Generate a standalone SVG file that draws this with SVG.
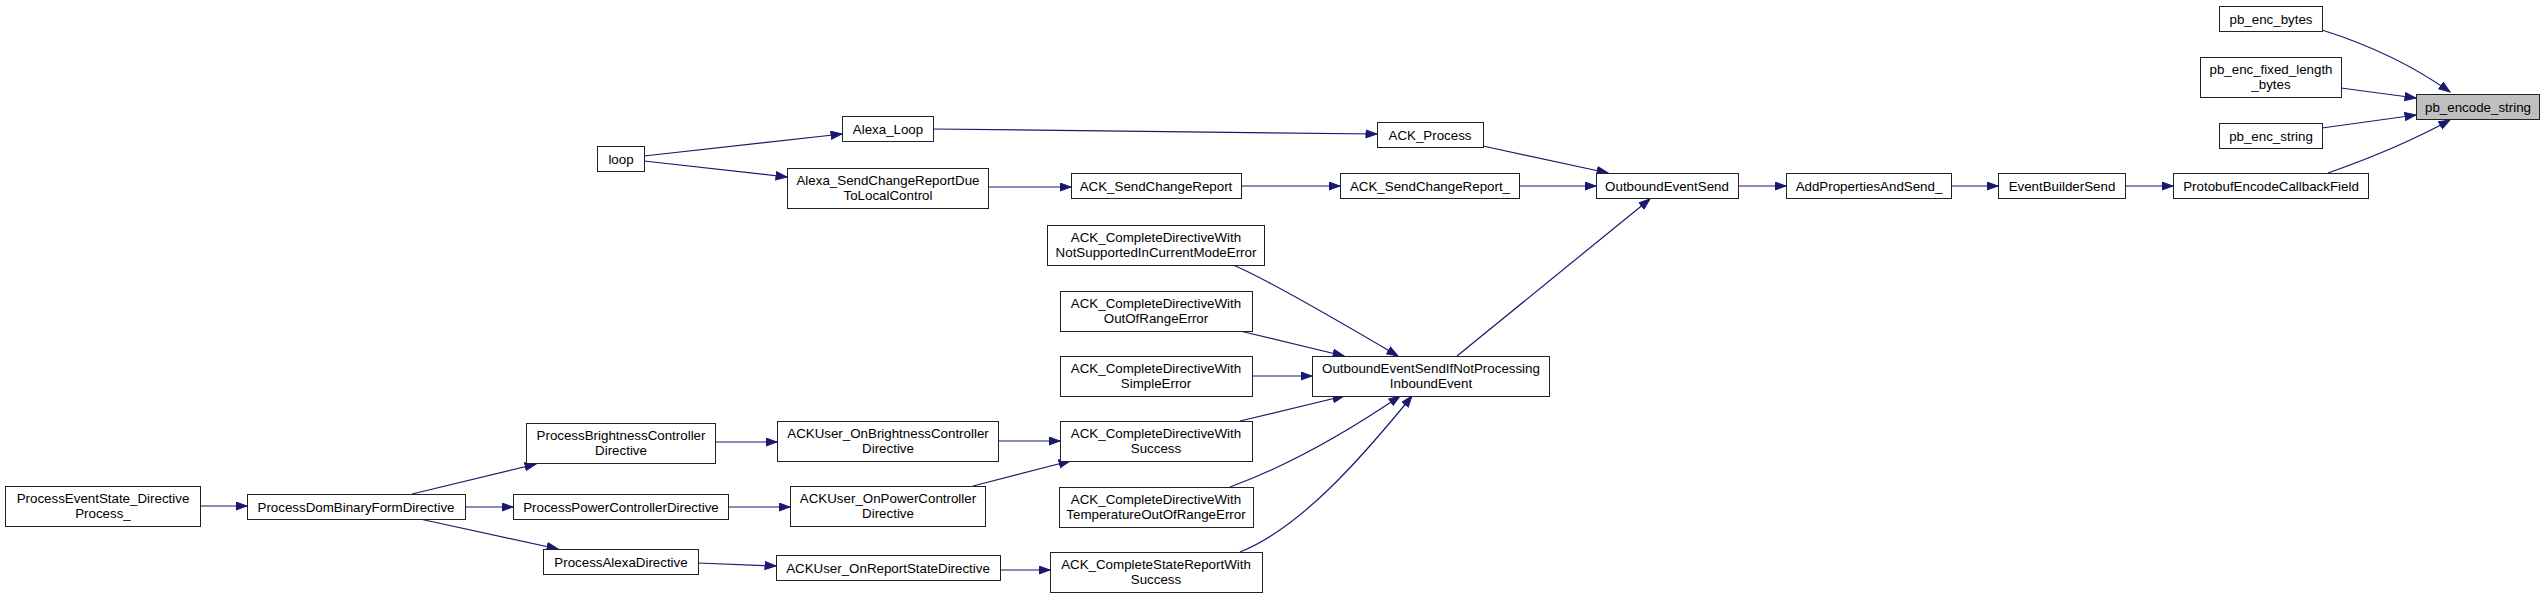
<svg xmlns="http://www.w3.org/2000/svg" width="2545" height="598" viewBox="0 0 2545 598">
<style>
.n rect{fill:#fff;stroke:#222;stroke-width:1}
.n.root rect{fill:#bfbfbf}
.n text{font-family:"Liberation Sans",Arial,Helvetica,sans-serif;font-size:13.33px;fill:#000;text-anchor:middle}
#edges path{fill:none;stroke:#191970;stroke-width:1.2;marker-end:url(#ah)}
</style>
<defs>
<marker id="ah" markerUnits="userSpaceOnUse" markerWidth="13" markerHeight="11" refX="11.5" refY="4.5" orient="auto">
<path d="M0.5,0.5 L11.5,4.5 L0.5,8.5 z" fill="#191970" stroke="#191970" stroke-width="1"/>
</marker>
</defs>
<rect width="2545" height="598" fill="#fff"/>
<g id="edges">
<path d="M2322,30 C2360,42 2408,62 2450,92"/>
<path d="M2341,88 L2416,98"/>
<path d="M2322,128 L2416,115"/>
<path d="M2328,173 C2365,160 2410,142 2450,120"/>
<path d="M2125,186 L2173,186"/>
<path d="M1951,186 L1998,186"/>
<path d="M1738,186 L1786,186"/>
<path d="M1483,146 L1608,173"/>
<path d="M1519,186 L1596,186"/>
<path d="M1457,356 L1650,199"/>
<path d="M933,129 L1377,134"/>
<path d="M644,156 L842,134"/>
<path d="M644,161 L787,177"/>
<path d="M988,187 L1071,187"/>
<path d="M1241,186 L1340,186"/>
<path d="M1233,265 C1262,277 1320,310 1398,356"/>
<path d="M1240,331 L1344,356"/>
<path d="M1252,376 L1312,376"/>
<path d="M1240,421 L1344,396"/>
<path d="M1230,487 C1290,465 1350,430 1400,396"/>
<path d="M1240,552 C1300,528 1360,460 1412,396"/>
<path d="M998,441 L1060,441"/>
<path d="M973,486 L1070,461"/>
<path d="M715,442 L777,442"/>
<path d="M728,507 L790,507"/>
<path d="M698,563 L776,566"/>
<path d="M1000,570 L1050,570"/>
<path d="M412,494 L536,464"/>
<path d="M465,507 L513,507"/>
<path d="M420,519 L558,549"/>
<path d="M200,506 L247,506"/>
</g>
<g id="pb_encode_string" class="n root"><rect x="2416.5" y="94.5" width="123" height="25"/><text x="2478" y="111.5">pb_encode_string</text></g>
<g id="pb_enc_bytes" class="n"><rect x="2219.5" y="6.5" width="103" height="25"/><text x="2271" y="23.5">pb_enc_bytes</text></g>
<g id="pb_enc_fixed_length_bytes" class="n"><rect x="2200.5" y="57.5" width="141" height="40"/><text x="2271" y="73.5">pb_enc_fixed_length</text><text x="2271" y="88.5">_bytes</text></g>
<g id="pb_enc_string" class="n"><rect x="2219.5" y="123.5" width="103" height="25"/><text x="2271" y="140.5">pb_enc_string</text></g>
<g id="ProtobufEncodeCallbackField" class="n"><rect x="2173.5" y="173.5" width="195" height="25"/><text x="2271" y="190.5">ProtobufEncodeCallbackField</text></g>
<g id="EventBuilderSend" class="n"><rect x="1998.5" y="173.5" width="127" height="25"/><text x="2062" y="190.5">EventBuilderSend</text></g>
<g id="AddPropertiesAndSend_" class="n"><rect x="1786.5" y="173.5" width="165" height="25"/><text x="1869" y="190.5">AddPropertiesAndSend_</text></g>
<g id="OutboundEventSend" class="n"><rect x="1596.5" y="173.5" width="142" height="25"/><text x="1667" y="190.5">OutboundEventSend</text></g>
<g id="ACK_Process" class="n"><rect x="1377.5" y="122.5" width="106" height="25"/><text x="1430" y="139.5">ACK_Process</text></g>
<g id="ACK_SendChangeReport_" class="n"><rect x="1340.5" y="173.5" width="179" height="25"/><text x="1430" y="190.5">ACK_SendChangeReport_</text></g>
<g id="ACK_SendChangeReport" class="n"><rect x="1071.5" y="173.5" width="170" height="25"/><text x="1156" y="190.5">ACK_SendChangeReport</text></g>
<g id="Alexa_Loop" class="n"><rect x="842.5" y="116.5" width="91" height="25"/><text x="888" y="133.5">Alexa_Loop</text></g>
<g id="Alexa_SendChangeReportDueToLocalControl" class="n"><rect x="787.5" y="168.5" width="201" height="40"/><text x="888" y="184.5">Alexa_SendChangeReportDue</text><text x="888" y="199.5">ToLocalControl</text></g>
<g id="loop" class="n"><rect x="597.5" y="146.5" width="47" height="25"/><text x="621" y="163.5">loop</text></g>
<g id="OutboundEventSendIfNotProcessingInboundEvent" class="n"><rect x="1312.5" y="356.5" width="237" height="40"/><text x="1431" y="372.5">OutboundEventSendIfNotProcessing</text><text x="1431" y="387.5">InboundEvent</text></g>
<g id="ACK_CompleteDirectiveWithNotSupportedInCurrentModeError" class="n"><rect x="1047.5" y="225.5" width="217" height="40"/><text x="1156" y="241.5">ACK_CompleteDirectiveWith</text><text x="1156" y="256.5">NotSupportedInCurrentModeError</text></g>
<g id="ACK_CompleteDirectiveWithOutOfRangeError" class="n"><rect x="1060.5" y="291.5" width="192" height="40"/><text x="1156" y="307.5">ACK_CompleteDirectiveWith</text><text x="1156" y="322.5">OutOfRangeError</text></g>
<g id="ACK_CompleteDirectiveWithSimpleError" class="n"><rect x="1060.5" y="356.5" width="192" height="40"/><text x="1156" y="372.5">ACK_CompleteDirectiveWith</text><text x="1156" y="387.5">SimpleError</text></g>
<g id="ACK_CompleteDirectiveWithSuccess" class="n"><rect x="1060.5" y="421.5" width="192" height="40"/><text x="1156" y="437.5">ACK_CompleteDirectiveWith</text><text x="1156" y="452.5">Success</text></g>
<g id="ACK_CompleteDirectiveWithTemperatureOutOfRangeError" class="n"><rect x="1059.5" y="487.5" width="194" height="40"/><text x="1156" y="503.5">ACK_CompleteDirectiveWith</text><text x="1156" y="518.5">TemperatureOutOfRangeError</text></g>
<g id="ACK_CompleteStateReportWithSuccess" class="n"><rect x="1050.5" y="552.5" width="212" height="40"/><text x="1156" y="568.5">ACK_CompleteStateReportWith</text><text x="1156" y="583.5">Success</text></g>
<g id="ACKUser_OnBrightnessControllerDirective" class="n"><rect x="777.5" y="421.5" width="221" height="40"/><text x="888" y="437.5">ACKUser_OnBrightnessController</text><text x="888" y="452.5">Directive</text></g>
<g id="ACKUser_OnPowerControllerDirective" class="n"><rect x="790.5" y="486.5" width="195" height="40"/><text x="888" y="502.5">ACKUser_OnPowerController</text><text x="888" y="517.5">Directive</text></g>
<g id="ACKUser_OnReportStateDirective" class="n"><rect x="776.5" y="555.5" width="224" height="25"/><text x="888" y="572.5">ACKUser_OnReportStateDirective</text></g>
<g id="ProcessBrightnessControllerDirective" class="n"><rect x="526.5" y="423.5" width="189" height="40"/><text x="621" y="439.5">ProcessBrightnessController</text><text x="621" y="454.5">Directive</text></g>
<g id="ProcessPowerControllerDirective" class="n"><rect x="513.5" y="494.5" width="215" height="25"/><text x="621" y="511.5">ProcessPowerControllerDirective</text></g>
<g id="ProcessAlexaDirective" class="n"><rect x="543.5" y="549.5" width="155" height="25"/><text x="621" y="566.5">ProcessAlexaDirective</text></g>
<g id="ProcessDomBinaryFormDirective" class="n"><rect x="247.5" y="494.5" width="218" height="25"/><text x="356" y="511.5">ProcessDomBinaryFormDirective</text></g>
<g id="ProcessEventState_DirectiveProcess_" class="n"><rect x="5.5" y="486.5" width="195" height="40"/><text x="103" y="502.5">ProcessEventState_Directive</text><text x="103" y="517.5">Process_</text></g>
</svg>
